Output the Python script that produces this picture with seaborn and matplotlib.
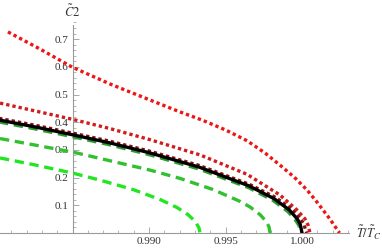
import numpy as np
import pandas as pd
import matplotlib
matplotlib.use("Agg")
import matplotlib.pyplot as plt
import seaborn as sns
from matplotlib.ticker import MultipleLocator, FixedLocator

# curves (x = T/Tc, y = C2)
x_red_outer = [0.98078, 0.98288, 0.98497, 0.98745, 0.99007, 0.99203, 0.99350, 0.99500,
               0.99641, 0.99760, 0.99856, 0.99950, 1.00033, 1.00100, 1.00137, 1.00180,
               1.00210, 1.00235, 1.00245]
y_red_outer = [0.726, 0.664, 0.599, 0.538, 0.480, 0.437, 0.407, 0.372,
               0.333, 0.288, 0.245, 0.201, 0.155, 0.110, 0.083, 0.052,
               0.028, 0.008, 0.0]

x_red_mid = [0.98026, 0.98261, 0.98503, 0.98745, 0.99006, 0.99333, 0.99640, 0.99856,
             0.99967, 1.00019, 1.00039, 1.00052]
y_red_mid = [0.469, 0.440, 0.410, 0.377, 0.337, 0.282, 0.212, 0.137,
             0.083, 0.051, 0.029, 0.0]

x_black = [0.98020, 0.98255, 0.98497, 0.98739, 0.99000, 0.99327, 0.99654, 0.99817,
           0.99915, 0.99967, 0.99987, 1.00000]
y_black = [0.408, 0.383, 0.355, 0.326, 0.290, 0.238, 0.170, 0.124,
           0.084, 0.052, 0.033, 0.0]

x_red_dark = [0.98020, 0.98255, 0.98497, 0.98739, 0.99000, 0.99327, 0.99654, 0.99825,
              0.99930, 0.99985, 1.00010, 1.00030]
y_red_dark = [0.414, 0.389, 0.361, 0.332, 0.296, 0.244, 0.176, 0.129,
              0.088, 0.055, 0.034, 0.0]

x_green_dark = [0.98020, 0.98255, 0.98497, 0.98739, 0.99000, 0.99327, 0.99654, 0.99812,
                0.99908, 0.99958, 0.99980, 0.99995]
y_green_dark = [0.401, 0.376, 0.348, 0.319, 0.283, 0.231, 0.163, 0.117,
                0.077, 0.046, 0.027, 0.0]

x_green_mid = [0.98026, 0.98503, 0.99007, 0.99203, 0.99418, 0.99595, 0.99660, 0.99726,
               0.99765, 0.99784, 0.99791]
y_green_mid = [0.341, 0.292, 0.227, 0.197, 0.157, 0.114, 0.094, 0.066,
               0.042, 0.022, 0.0]

x_green_light = [0.98026, 0.98261, 0.98503, 0.98679, 0.98895, 0.99072, 0.99183, 0.99255,
                 0.99300, 0.99326, 0.99333]
y_green_light = [0.271, 0.245, 0.216, 0.191, 0.157, 0.121, 0.092, 0.066,
                 0.043, 0.019, 0.0]

x_ticks = [0.990, 0.995, 1.000]
x_ticklabels = ["0.990", "0.995", "1.000"]
y_ticks = [0.1, 0.2, 0.3, 0.4, 0.5, 0.6, 0.7]

sns.set_style("white")
plt.rcParams["font.family"] = ["Liberation Serif", "DejaVu Serif"]
plt.rcParams["mathtext.fontset"] = "stix"

fig = plt.figure(figsize=(3.82, 2.5), dpi=100)
# axes crossing at (0.985, 0)
ax = fig.add_axes([0, 17 / 250, 355 / 382, 213 / 250])

def draw(xs, ys, color, style, lw, z):
    df = pd.DataFrame({"x": xs, "y": ys})
    sns.lineplot(data=df, x="x", y="y", ax=ax, color=color, linewidth=lw,
                 estimator=None, sort=False, zorder=z)
    line = ax.lines[-1]
    if style == "dot":
        line.set_dashes((1.0, 0.9))
    elif style == "dash":
        line.set_dashes((2.8, 1.7))
    line.set_dash_capstyle("butt")

draw(x_red_outer, y_red_outer, "#f01515", "dot", 2.4, 3)
draw(x_red_mid, y_red_mid, "#d21c1c", "dot", 2.4, 3)
draw(x_green_light, y_green_light, "#22e622", "dash", 2.4, 3)
draw(x_green_mid, y_green_mid, "#30c030", "dash", 2.4, 3)
draw(x_green_dark, y_green_dark, "#2f9a2f", "dash", 2.4, 3)
draw(x_red_dark, y_red_dark, "#8a1010", "dot", 2.4, 3)
draw(x_black, y_black, "black", "solid", 2.4, 4)

ax.set_xlim(0.98026, 1.00346)
ax.set_ylim(0, 0.769)
ax.set_xlabel("")
ax.set_ylabel("")

for s in ["top", "right"]:
    ax.spines[s].set_visible(False)
axis_col = "#9a9a9a"
ax.spines["left"].set_position(("data", 0.985))
ax.spines["bottom"].set_position(("data", 0))
ax.spines["left"].set_bounds(0, 0.752)
ax.spines["bottom"].set_bounds(0.98026, 1.0031)
for s in ["left", "bottom"]:
    ax.spines[s].set_color(axis_col)
    ax.spines[s].set_linewidth(0.8)

ax.xaxis.set_major_locator(FixedLocator(x_ticks))
ax.set_xticklabels(x_ticklabels)
ax.xaxis.set_minor_locator(MultipleLocator(0.001))
ax.yaxis.set_major_locator(FixedLocator(y_ticks))
ax.set_yticklabels([f"{v:.1f}" for v in y_ticks])
ax.yaxis.set_minor_locator(MultipleLocator(0.02))
ax.tick_params(axis="both", which="major", direction="in", length=4, width=0.6,
               color=axis_col, labelsize=8, labelcolor="#333333", pad=3)
ax.tick_params(axis="both", which="minor", direction="in", length=2, width=0.5,
               color=axis_col)
ax.tick_params(axis="x", which="both", bottom=True)
ax.tick_params(axis="y", which="both", left=True)

ax.text(0.985, 0.80, r"$\tilde{C}2$", ha="center", va="center", fontsize=9,
        color="#333333", clip_on=False)
ax.text(1.0035, 0.0, r"$\tilde{T}/\tilde{T}_C$", ha="left", va="center", fontsize=9,
        color="#333333", clip_on=False)

fig.savefig("out.png", dpi=100)
